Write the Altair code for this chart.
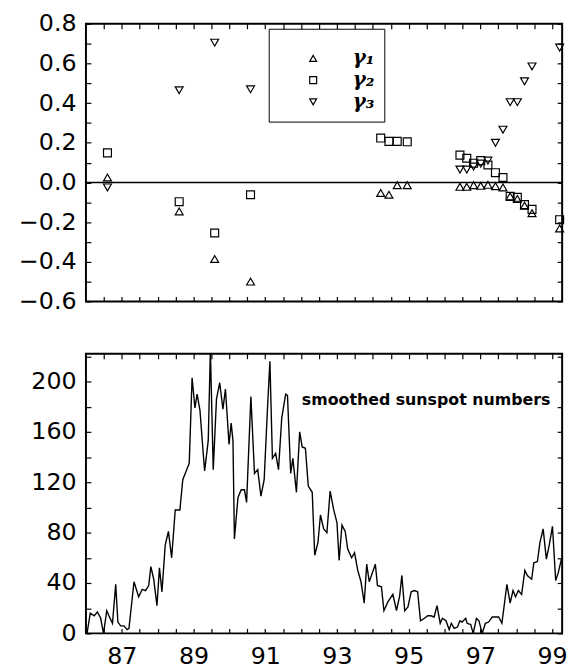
import altair as alt
import pandas as pd

# ---------------- data ----------------
series_names = ["γ₁", "γ₂", "γ₃"]
x_top = [86.60, 88.60, 89.59, 90.59, 94.22, 94.45, 94.68, 94.96, 96.43, 96.62,
         96.81, 97.01, 97.21, 97.42, 97.63, 97.83, 98.03, 98.23, 98.44, 99.21]
gamma1 = [0.025, -0.146, -0.386, -0.50, -0.053, -0.062, -0.014, -0.014, -0.022, -0.022,
          -0.014, -0.017, -0.012, -0.019, -0.025, -0.070, -0.083, -0.117, -0.155, -0.232]
gamma2 = [0.149, -0.097, -0.255, -0.062, 0.224, 0.207, 0.207, 0.205, 0.138, 0.122,
          0.097, 0.110, 0.088, 0.049, 0.025, -0.070, -0.075, -0.112, -0.136, -0.188]
gamma3 = [-0.025, 0.465, 0.705, 0.47, None, None, None, None, 0.065, 0.065,
          0.08, 0.095, 0.11, 0.20, 0.266, 0.405, 0.405, 0.51, 0.585, 0.68]

ssn_year = [86.03, 86.12, 86.23, 86.32, 86.41, 86.49, 86.58, 86.64, 86.74, 86.83,
            86.89, 86.97, 87.06, 87.15, 87.20, 87.34, 87.47, 87.57, 87.66, 87.75,
            87.81, 87.89, 87.98, 88.05, 88.12, 88.21, 88.30, 88.39, 88.49, 88.62,
            88.70, 88.81, 88.88, 88.96, 89.04, 89.10, 89.18, 89.27, 89.31, 89.41,
            89.47, 89.55, 89.64, 89.73, 89.82, 89.89, 89.99, 90.05, 90.10, 90.14,
            90.24, 90.33, 90.42, 90.48, 90.60, 90.70, 90.79, 90.88, 90.97, 91.06,
            91.13, 91.20, 91.29, 91.37, 91.46, 91.57, 91.62,
            91.71, 91.77, 91.87, 91.96, 92.03, 92.12, 92.20, 92.31, 92.38, 92.47,
            92.54, 92.63, 92.72, 92.81, 92.91, 93.00, 93.06, 93.14, 93.23, 93.30,
            93.41, 93.49, 93.58, 93.67, 93.76, 93.83, 93.90, 94.01, 94.07, 94.13,
            94.24, 94.31, 94.42, 94.56, 94.66, 94.75, 94.81, 94.89, 94.98, 95.07,
            95.16, 95.25, 95.33, 95.44, 95.53, 95.62, 95.71, 95.79, 95.88, 95.94,
            96.04, 96.13, 96.19, 96.27, 96.36, 96.43, 96.49, 96.59, 96.63, 96.73,
            96.80, 96.89, 96.96, 97.05, 97.14, 97.23, 97.33, 97.42, 97.51, 97.60,
            97.74, 97.83, 97.91, 97.98, 98.06, 98.15, 98.24, 98.31, 98.43, 98.49,
            98.59, 98.66, 98.75, 98.84, 98.92, 99.01, 99.10, 99.17, 99.26]
ssn_value = [0, 16, 14, 17, 12, 0, 18, 14, 8, 39,
             9, 6, 6, 3, 4, 41, 29, 35, 34, 38,
             53, 43, 22, 52, 33, 70, 81, 60, 98, 98,
             122, 130, 135, 203, 179, 190, 177, 143, 129, 153,
             225, 130, 186, 199, 178, 194, 150, 167, 153, 75,
             108, 114, 114, 104, 188, 127, 130, 109, 122, 177,
             216, 139, 143, 130, 171, 190, 189,
             127, 139, 112, 160, 148, 147, 117, 112, 62, 72,
             94, 83, 80, 113, 98, 88, 58, 86, 81, 67,
             60, 64, 50, 41, 24, 55, 41, 50, 55, 38,
             37, 18, 25, 31, 18, 30, 46, 18, 21, 33,
             34, 33, 10, 12, 14, 14, 13, 22, 8, 12,
             10, 3, 8, 4, 5, 10, 9, 12, 8, 7,
             0, 12, 10, 0, 8, 9, 13, 13, 13, 8,
             39, 24, 34, 29, 34, 31, 50, 46, 43, 56,
             57, 72, 83, 59, 70, 85, 42, 48, 59]

annotation = "smoothed sunspot numbers"

x_ticks = [86.5, 87, 87.5, 88, 88.5, 89, 89.5, 90, 90.5, 91, 91.5, 92, 92.5, 93,
           93.5, 94, 94.5, 95, 95.5, 96, 96.5, 97, 97.5, 98, 98.5, 99]
top_y_ticks = [-0.6, -0.5, -0.4, -0.3, -0.2, -0.1, 0.0, 0.1, 0.2, 0.3, 0.4, 0.5, 0.6, 0.7, 0.8]
bot_y_ticks = [0, 20, 40, 60, 80, 100, 120, 140, 160, 180, 200, 220]

# ---------------- tables ----------------
rows = []
for name, vals in zip(series_names, [gamma1, gamma2, gamma3]):
    for x, v in zip(x_top, vals):
        if v is not None:
            rows.append({"year": x, "gamma": v, "series": name})
top_df = pd.DataFrame(rows)
ssn_df = pd.DataFrame({"year": ssn_year, "ssn": ssn_value})

FONT = "DejaVu Sans"
TICK = {"expr": "-5"}

xs = alt.Scale(domain=[86.0, 99.28], nice=False, zero=False)
ys_top = alt.Scale(domain=[-0.6, 0.8], nice=False, zero=False)
ys_bot = alt.Scale(domain=[0, 222], nice=False, zero=False)


def make_axis(orient, values, show_labels, label_expr, pad):
    kw = dict(orient=orient, values=values, title=None, grid=False, domain=False,
              ticks=True, tickSize=TICK, tickColor="black", tickWidth=1.2,
              labels=show_labels)
    if show_labels:
        kw.update(labelExpr=label_expr, labelFont=FONT, labelFontSize=24,
                  labelColor="black", labelPadding=pad, labelOverlap=False,
                  labelFlush=False, labelBound=False)
    return alt.Axis(**kw)


x_lab = "datum.value % 2 == 1 ? format(datum.value, 'd') : ''"
ytop_lab = "abs(round(datum.value * 10)) % 2 == 0 ? format(datum.value, '.1f') : ''"
ybot_lab = "datum.value % 40 == 0 ? format(datum.value, 'd') : ''"

# ---------------- top panel ----------------
zero_rule = alt.Chart(pd.DataFrame({"z": [0.0]})).mark_rule(
    color="black", strokeWidth=1.5
).encode(y=alt.Y("z:Q", scale=ys_top, axis=None))

points = alt.Chart(top_df).mark_point(
    filled=False, stroke="black", strokeWidth=1.2, size=64, opacity=1
).encode(
    x=alt.X("year:Q", scale=xs, axis=make_axis("bottom", x_ticks, False, x_lab, 14)),
    y=alt.Y("gamma:Q", scale=ys_top, axis=make_axis("left", top_y_ticks, True, ytop_lab, 15)),
    shape=alt.Shape(
        "series:N",
        scale=alt.Scale(domain=series_names, range=["triangle-up", "square", "triangle-down"]),
        legend=alt.Legend(
            orient="none", legendX=185, legendY=5, title=" ", titleFontSize=6,
            titlePadding=4, padding=10, strokeColor="black",
            symbolSize=49, symbolStrokeColor="black", symbolStrokeWidth=1.2,
            symbolFillColor="white", symbolOffset=25, labelOffset=30,
            labelFont="DejaVu Serif", labelFontStyle="italic", labelFontWeight="bold",
            labelFontSize=20, labelColor="black", rowPadding=2,
        ),
    ),
)

mirror_top = alt.Chart(top_df).mark_point(opacity=0).encode(
    x=alt.X("year:Q", scale=xs, axis=make_axis("top", x_ticks, False, x_lab, 0)),
    y=alt.Y("gamma:Q", scale=ys_top, axis=make_axis("right", top_y_ticks, False, ytop_lab, 0)),
)

top = alt.layer(zero_rule, points, mirror_top).resolve_axis(
    x="independent", y="independent"
).properties(width=482, height=281)

# ---------------- bottom panel ----------------
line = alt.Chart(ssn_df).mark_line(color="black", strokeWidth=1.4, clip=True).encode(
    x=alt.X("year:Q", scale=xs, axis=make_axis("bottom", x_ticks, True, x_lab, 16)),
    y=alt.Y("ssn:Q", scale=ys_bot, axis=make_axis("left", bot_y_ticks, True, ybot_lab, 15)),
)

mirror_bot = alt.Chart(ssn_df).mark_point(opacity=0).encode(
    x=alt.X("year:Q", scale=xs, axis=make_axis("top", x_ticks, False, x_lab, 0)),
    y=alt.Y("ssn:Q", scale=ys_bot, axis=make_axis("right", bot_y_ticks, False, ybot_lab, 0)),
)

label = alt.Chart(pd.DataFrame({"t": [annotation]})).mark_text(
    align="left", baseline="middle", font=FONT, fontWeight="bold", fontSize=16, color="black"
).encode(
    x=alt.XDatum(92.02, scale=xs, axis=None),
    y=alt.YDatum(185, scale=ys_bot, axis=None),
    text="t:N",
)

bottom = alt.layer(line, mirror_bot, label).resolve_axis(
    x="independent", y="independent"
).properties(width=482, height=283)

chart = alt.vconcat(top, bottom, spacing=53, bounds="flush").resolve_legend(
    shape="independent"
).configure_view(stroke="black", strokeWidth=2).properties(
    padding={"left": 17, "top": 7, "right": 5, "bottom": 0},
    background="white",
)

chart.save("out.html", embed_options={"renderer": "svg", "actions": False})
